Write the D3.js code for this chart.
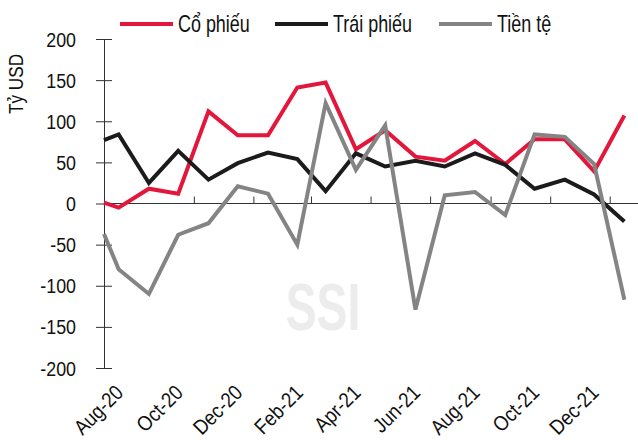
<!DOCTYPE html>
<html lang="vi">

<head>
    <meta charset="UTF-8">
    <script src="https://d3js.org/d3.v7.min.js"></script>
    <title>Dòng vốn</title>
    <style>
        body {
            margin: 0;
            padding: 0;
            background: #fff;
        }

        svg {
            display: block;
            font-family: "Liberation Sans", Arial, sans-serif;
        }
    </style>
</head>

<body>
</body>
<script>

    // first point sits on the left edge (end of Jul-20), then one per month
    var dates = ["2020-08-01", "2020-08-16", "2020-09-16", "2020-10-16", "2020-11-16", "2020-12-16",
        "2021-01-16", "2021-02-15", "2021-03-16", "2021-04-16", "2021-05-16", "2021-06-16",
        "2021-07-16", "2021-08-16", "2021-09-16", "2021-10-16", "2021-11-16", "2021-12-16", "2022-01-16"]

    var coPhieu = [1, -5, 18, 12, 112, 83, 83, 141, 147, 66, 89, 57, 52, 76, 48, 78, 78, 39, 107]
    var traiPhieu = [77, 84, 25, 64, 29, 49, 62, 54, 15, 61, 45, 52, 45, 61, 47, 18, 29, 11, -22]
    var tienTe = [-37, -80, -110, -38, -24, 21, 12, -50, 122, 41, 95, -129, 10, 14, -14, 84, 81, 48, -117]

    var seriesNames = ["Cổ phiếu", "Trái phiếu", "Tiền tệ"]
    var seriesColors = ["#e3173b", "#1b1b1b", "#848484"]

    var yTicks = [-200, -150, -100, -50, 0, 50, 100, 150, 200]
    var xLabels = ["Aug-20", "Oct-20", "Dec-20", "Feb-21", "Apr-21", "Jun-21", "Aug-21", "Oct-21", "Dec-21"]

    var parse = d3.timeParse("%Y-%m-%d")

    var width = 638, height = 440

    var x = d3.scaleTime()
        .domain([parse("2020-08-01"), parse("2022-02-01")])
        .range([104, 640])

    var y = d3.scaleLinear()
        .domain([-200, 200])
        .range([368, 39])

    var svg = d3.select("body").append("svg")
        .attr("width", width)
        .attr("height", height)

    // watermark
    svg.append("text")
        .attr("transform", "translate(323,330) scale(0.7,1)")
        .attr("text-anchor", "middle")
        .attr("font-size", 66)
        .attr("font-weight", "bold")
        .attr("fill", "#ececec")
        .text("SSI")

    // y axis
    var yAxis = svg.append("g")
        .attr("transform", "translate(104,0)")
        .call(d3.axisLeft(y).tickValues(yTicks).tickSize(0).tickFormat(""))
    yAxis.select(".domain").attr("stroke", "#333")
    yAxis.selectAll(".tick").append("line")
        .attr("x1", -8).attr("x2", 8)
        .attr("stroke", "#333")

    // narrow-looking tick labels (the original uses a condensed face)
    svg.append("g")
        .selectAll("text")
        .data(yTicks)
        .enter()
        .append("text")
        .attr("transform", function (d) { return "translate(76," + y(d) + ") scale(0.85,1)" })
        .attr("text-anchor", "end")
        .attr("dy", "0.36em")
        .attr("font-size", 21)
        .attr("fill", "#111")
        .text(function (d) { return String(d) })

    svg.append("text")
        .attr("transform", "translate(23,84) rotate(-90) scale(0.82,1)")
        .attr("text-anchor", "middle")
        .attr("font-size", 21)
        .attr("fill", "#111")
        .text("Tỷ USD")

    // x axis on the zero line
    var tickDates = d3.timeMonth.every(2).range(parse("2020-10-01"), parse("2022-02-01"))
    var xAxis = svg.append("g")
        .attr("transform", "translate(0," + y(0) + ")")
        .call(d3.axisTop(x).tickValues(tickDates).tickSize(7).tickFormat(""))
    xAxis.select(".domain").attr("stroke", "#333").attr("d", "M104,0H638")
    xAxis.selectAll(".tick line").attr("stroke", "#333")

    svg.append("g")
        .selectAll("text")
        .data(xLabels)
        .enter()
        .append("text")
        .attr("transform", function (d) {
            var m = d3.timeParse("%b-%y")(d)
            var cx = x(d3.timeDay.offset(m, 15))
            return "translate(" + (cx + 6) + ",394) rotate(-45) scale(0.88,1)"
        })
        .attr("text-anchor", "end")
        .attr("font-size", 21)
        .attr("fill", "#111")
        .text(function (d) { return d })

    // lines
    var line = d3.line()
        .x(function (d) { return x(d.date) })
        .y(function (d) { return y(d.value) })

    var allSeries = [coPhieu, traiPhieu, tienTe]
    var drawn = allSeries.map(function (vals, i) {
        return {
            name: seriesNames[i],
            color: seriesColors[i],
            points: vals.map(function (v, j) { return { date: parse(dates[j]), value: v } })
        }
    })

    svg.append("g")
        .selectAll("path")
        .data(drawn)
        .enter()
        .append("path")
        .attr("d", function (d) { return line(d.points) })
        .attr("fill", "none")
        .attr("stroke", function (d) { return d.color })
        .attr("stroke-width", 4)
        .attr("stroke-linejoin", "miter")

    // legend
    var legendX = [120, 275, 439]
    var legend = svg.append("g")
        .selectAll("g")
        .data(drawn)
        .enter()
        .append("g")
        .attr("transform", function (d, i) { return "translate(" + legendX[i] + ",24)" })
    legend.append("line")
        .attr("x1", 0).attr("x2", 53)
        .attr("stroke", function (d) { return d.color })
        .attr("stroke-width", 4)
    legend.append("text")
        .attr("transform", "translate(58,8) scale(0.78,1)")
        .attr("font-size", 23)
        .attr("fill", "#111")
        .text(function (d) { return d.name })

</script>

</html>
